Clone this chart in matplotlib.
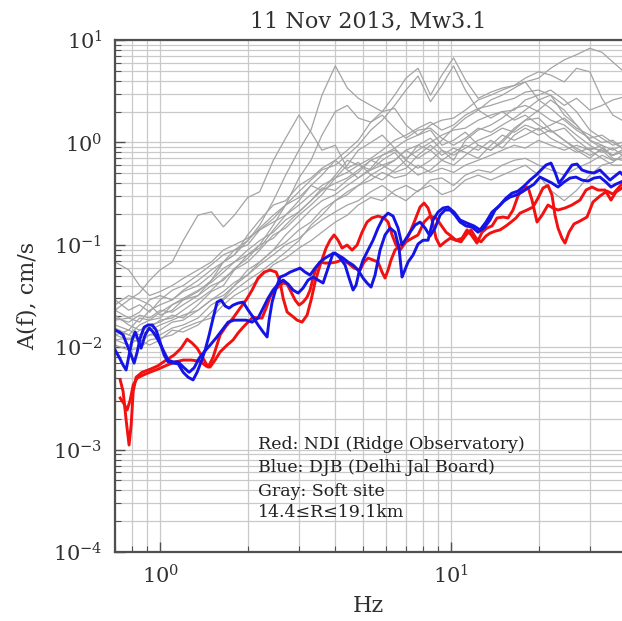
import matplotlib
matplotlib.use("Agg")
import matplotlib.pyplot as plt
from matplotlib.ticker import LogLocator, NullFormatter

plt.rcParams['font.family'] = ['DejaVu Serif']
plt.rcParams['mathtext.fontset'] = 'dejavuserif'

# ---------------- data ----------------
title = "11 Nov 2013, Mw3.1"
xlabel = "Hz"
ylabel = "A(f), cm/s"
notes = ["Red: NDI (Ridge Observatory)",
         "Blue: DJB (Delhi Jal Board)",
         "Gray: Soft site",
         "14.4\u2264R\u226419.1km"]

# frequency grid of the gray (soft-site) spectra, Hz
gray_f = [0.70, 0.78, 0.85, 0.92, 1.0, 1.1, 1.2, 1.35, 1.5, 1.65, 1.8, 2.0, 2.2, 2.45, 2.7,
          3.0, 3.3, 3.6, 4.0, 4.4, 4.8, 5.3, 5.8, 6.4, 7.0, 7.7, 8.5, 9.3, 10.2, 11.2, 12.4,
          13.7, 15, 16.5, 18, 20, 22, 24.5, 27, 30, 33, 36, 38.7]

g1 = [0.023, 0.029, 0.034, 0.045, 0.057, 0.068, 0.11, 0.195, 0.21, 0.15, 0.195, 0.29, 0.33, 0.67, 1.1,
      1.85, 1.26, 0.84, 0.94, 0.56, 0.64, 0.48, 0.56, 0.67, 0.84, 0.70, 0.84, 0.67, 0.80, 0.94, 0.84,
      1.05, 0.88, 1.18, 1.38, 1.18, 1.32, 1.05, 0.88, 0.75, 0.84, 0.67, 0.70]
g2 = [0.0147, 0.0132, 0.0165, 0.0184, 0.0193, 0.026, 0.029, 0.035, 0.045, 0.068, 0.08, 0.11, 0.156, 0.27, 0.48,
      0.84, 1.32, 2.9, 5.6, 3.4, 2.7, 2.3, 2.0, 2.15, 1.48, 1.18, 1.32, 0.94, 1.05, 1.26, 0.94,
      0.84, 1.0, 1.32, 1.65, 1.73, 1.32, 1.05, 0.84, 0.70, 0.88, 0.75, 0.84]
g3 = [0.0132, 0.0118, 0.0147, 0.0154, 0.0184, 0.0193, 0.023, 0.029, 0.036, 0.047, 0.057, 0.08, 0.093, 0.14, 0.195,
      0.27, 0.38, 0.48, 0.67, 0.84, 1.05, 1.58, 2.0, 2.9, 4.25, 5.3, 2.9, 4.55, 6.7, 4.1, 2.7,
      3.1, 3.4, 3.6, 3.9, 2.6, 2.9, 1.85, 1.48, 1.05, 0.88, 0.75, 0.80]
g4 = [0.0184, 0.0193, 0.0176, 0.023, 0.026, 0.029, 0.035, 0.040, 0.051, 0.068, 0.089, 0.10, 0.14, 0.18, 0.245,
      0.33, 0.43, 0.54, 0.60, 0.75, 0.94, 1.32, 1.65, 2.3, 3.25, 4.45, 2.5, 3.6, 5.6, 3.25, 2.07,
      1.73, 2.0, 1.65, 1.85, 1.48, 1.26, 1.38, 1.05, 0.84, 0.94, 0.70, 0.67]
g5 = [0.0118, 0.0105, 0.0123, 0.0132, 0.0147, 0.0176, 0.0184, 0.023, 0.029, 0.032, 0.040, 0.051, 0.068, 0.089, 0.125,
      0.167, 0.22, 0.27, 0.31, 0.38, 0.45, 0.54, 0.60, 0.67, 0.84, 0.94, 0.84, 1.05, 1.38, 1.73, 2.07,
      2.6, 2.9, 3.4, 3.9, 4.25, 5.3, 6.4, 7.2, 8.3, 7.6, 6.1, 5.1]
g6 = [0.0165, 0.0147, 0.0193, 0.0184, 0.022, 0.026, 0.030, 0.036, 0.043, 0.054, 0.068, 0.08, 0.10, 0.116, 0.156,
      0.21, 0.27, 0.34, 0.40, 0.45, 0.54, 0.67, 0.75, 0.88, 1.05, 1.18, 1.48, 1.65, 1.73, 2.07, 2.6,
      2.9, 3.25, 3.6, 4.25, 4.9, 4.55, 3.9, 5.3, 4.9, 2.7, 1.85, 1.65]
g7 = [0.0206, 0.0165, 0.0147, 0.0165, 0.0176, 0.0206, 0.0193, 0.026, 0.035, 0.040, 0.057, 0.068, 0.089, 0.125, 0.146,
      0.195, 0.245, 0.31, 0.45, 0.60, 0.84, 1.0, 1.18, 0.88, 0.67, 0.94, 1.1, 0.84, 0.67, 1.05, 1.32,
      1.48, 1.73, 2.15, 2.3, 2.0, 1.65, 1.48, 1.18, 0.94, 0.80, 0.88, 0.75]
g8 = [0.029, 0.023, 0.026, 0.022, 0.029, 0.036, 0.040, 0.051, 0.064, 0.08, 0.089, 0.11, 0.146, 0.195, 0.245,
      0.29, 0.38, 0.34, 0.48, 0.67, 0.60, 0.54, 0.67, 0.80, 0.60, 0.48, 0.54, 0.67, 0.60, 0.75, 0.94,
      0.84, 1.05, 1.38, 1.65, 2.07, 2.6, 2.07, 1.48, 1.05, 0.94, 0.84, 0.94]
g9 = [0.0118, 0.0123, 0.0112, 0.0132, 0.0132, 0.0154, 0.0165, 0.0193, 0.026, 0.030, 0.040, 0.057, 0.068, 0.089, 0.106,
      0.14, 0.167, 0.22, 0.27, 0.33, 0.38, 0.48, 0.43, 0.54, 0.67, 0.56, 0.67, 0.84, 0.75, 0.88, 1.05,
      1.18, 1.38, 1.26, 1.48, 1.32, 1.48, 1.73, 1.38, 1.18, 1.0, 1.05, 0.88]
g10 = [0.023, 0.0193, 0.022, 0.029, 0.032, 0.029, 0.036, 0.045, 0.057, 0.068, 0.08, 0.125, 0.175, 0.245, 0.27,
       0.38, 0.45, 0.56, 0.67, 0.54, 0.45, 0.56, 0.75, 0.84, 0.70, 0.84, 1.0, 1.18, 1.32, 1.38, 1.65,
       1.85, 2.0, 2.07, 2.6, 2.9, 3.25, 2.6, 2.0, 1.32, 1.1, 0.94, 1.0]
g11 = [0.0105, 0.0094, 0.0098, 0.0118, 0.0123, 0.0132, 0.0154, 0.0176, 0.0193, 0.026, 0.032, 0.038, 0.047, 0.064, 0.074,
       0.093, 0.11, 0.133, 0.167, 0.195, 0.245, 0.29, 0.27, 0.34, 0.38, 0.33, 0.43, 0.45, 0.38, 0.48, 0.54,
       0.51, 0.60, 0.67, 0.70, 0.60, 0.54, 0.48, 0.56, 0.64, 0.75, 0.67, 0.70]
g12 = [0.0132, 0.0147, 0.0132, 0.0147, 0.0165, 0.0184, 0.0206, 0.023, 0.029, 0.035, 0.043, 0.051, 0.064, 0.08, 0.10,
       0.116, 0.146, 0.175, 0.21, 0.245, 0.27, 0.33, 0.38, 0.31, 0.27, 0.34, 0.38, 0.31, 0.34, 0.43, 0.48,
       0.43, 0.48, 0.54, 0.60, 0.48, 0.34, 0.27, 0.34, 0.48, 0.60, 0.64, 0.75]
g13 = [0.068, 0.057, 0.040, 0.032, 0.035, 0.040, 0.047, 0.057, 0.068, 0.089, 0.10, 0.116, 0.14, 0.167, 0.195,
       0.245, 0.31, 0.38, 0.45, 0.51, 0.60, 0.70, 0.84, 1.05, 1.18, 1.38, 1.58, 1.32, 1.48, 1.85, 2.15,
       2.3, 2.5, 2.7, 3.1, 3.25, 2.9, 2.3, 2.7, 2.07, 2.3, 2.6, 2.75]
g14 = [0.0193, 0.0176, 0.0206, 0.0193, 0.023, 0.022, 0.026, 0.032, 0.040, 0.045, 0.059, 0.074, 0.10, 0.156, 0.245,
       0.45, 0.67, 1.18, 2.0, 2.3, 1.73, 1.58, 1.85, 1.38, 1.1, 1.32, 1.38, 1.1, 0.94, 1.1, 1.38,
       1.26, 1.48, 1.73, 2.07, 2.6, 2.15, 1.65, 1.32, 1.1, 1.18, 1.0, 0.88]
g15 = [0.0154, 0.0132, 0.0118, 0.0105, 0.0118, 0.0147, 0.0141, 0.0165, 0.022, 0.029, 0.036, 0.045, 0.054, 0.068, 0.085,
       0.11, 0.156, 0.195, 0.27, 0.31, 0.38, 0.43, 0.51, 0.45, 0.48, 0.60, 0.51, 0.56, 0.51, 0.60, 0.67,
       0.75, 0.84, 0.94, 0.88, 1.05, 0.94, 0.84, 0.94, 0.84, 0.70, 0.60, 0.60]
g16 = [0.026, 0.032, 0.029, 0.026, 0.0206, 0.023, 0.029, 0.032, 0.045, 0.059, 0.068, 0.089, 0.11, 0.133, 0.175,
       0.21, 0.27, 0.36, 0.34, 0.43, 0.51, 0.67, 0.60, 0.51, 0.56, 0.75, 0.94, 0.75, 0.88, 0.80, 0.70,
       0.94, 1.18, 1.05, 1.18, 1.38, 1.1, 0.94, 0.80, 0.88, 0.84, 0.75, 0.84]
gray_series = [g1, g2, g3, g4, g5, g6, g7, g8, g9, g10, g11, g12, g13, g14, g15, g16]

# Red: NDI (two components)
red1_f = [0.729, 0.746, 0.764, 0.782, 0.795, 0.808, 0.827, 0.867, 0.924, 0.984, 1.049, 1.117, 1.181, 1.238,
          1.288, 1.340, 1.405, 1.462, 1.521, 1.608, 1.686, 1.782, 1.883, 1.975, 2.071, 2.172, 2.277, 2.388,
          2.504, 2.585, 2.647, 2.732, 2.843, 2.957, 3.076, 3.200, 3.303, 3.409, 3.547, 3.719, 3.838, 3.962,
          4.089, 4.221, 4.392, 4.569, 4.754, 4.945, 5.144, 5.351, 5.612, 5.886, 6.075, 6.270, 6.471, 6.678,
          6.948, 7.229, 7.521, 7.826, 8.077, 8.337, 8.605, 8.881, 9.167, 9.537, 9.922, 10.40, 10.91, 11.35,
          11.81, 12.28, 12.78, 13.29, 13.83, 14.39, 15.09, 15.70, 16.33, 16.99, 17.68, 18.39, 18.98, 19.75,
          20.55, 21.54, 22.41, 23.32, 24.65, 26.05, 27.76, 29.11, 30.52, 32.00, 33.83, 35.47, 36.90, 38.70]
red1_a = [0.0048, 0.0037, 0.00195, 0.00111, 0.00174, 0.0037, 0.0051, 0.0057, 0.0061, 0.0066, 0.0075, 0.0084,
          0.0098, 0.0120, 0.0110, 0.0098, 0.0078, 0.0064, 0.0080, 0.0132, 0.0161, 0.0193, 0.0241, 0.0289,
          0.0362, 0.0474, 0.0542, 0.0567, 0.0542, 0.0433, 0.0302, 0.0221, 0.0202, 0.0184, 0.0176, 0.0206,
          0.0289, 0.0433, 0.0635, 0.093, 0.111, 0.125, 0.111, 0.093, 0.0996, 0.0889, 0.0996, 0.133, 0.167,
          0.183, 0.191, 0.183, 0.167, 0.125, 0.0996, 0.0889, 0.104, 0.133, 0.175, 0.234, 0.256, 0.229, 0.175,
          0.116, 0.0973, 0.107, 0.116, 0.111, 0.116, 0.140, 0.122, 0.104, 0.133, 0.146, 0.153, 0.183, 0.187,
          0.183, 0.219, 0.300, 0.359, 0.367, 0.274, 0.167, 0.195, 0.245, 0.229, 0.219, 0.229, 0.245, 0.274,
          0.343, 0.367, 0.343, 0.343, 0.274, 0.328, 0.359]
red2_f = [0.729, 0.752, 0.770, 0.789, 0.808, 0.834, 0.874, 0.924, 0.984, 1.057, 1.126, 1.2, 1.278, 1.372,
          1.439, 1.485, 1.545, 1.608, 1.699, 1.782, 1.854, 1.929, 2.006, 2.087, 2.172, 2.241, 2.313, 2.388,
          2.465, 2.544, 2.647, 2.732, 2.820, 2.911, 3.004, 3.101, 3.200, 3.277, 3.356, 3.436, 3.547, 3.690,
          3.838, 4.025, 4.221, 4.426, 4.642, 4.867, 5.023, 5.185, 5.395, 5.612, 5.793, 5.932, 6.075, 6.220,
          6.420, 6.678, 7.004, 7.345, 7.702, 8.077, 8.470, 8.881, 9.239, 9.612, 10.0, 10.40, 10.82, 11.26,
          11.71, 12.19, 12.68, 13.19, 13.61, 14.17, 14.74, 15.45, 16.08, 16.72, 17.26, 18.25, 19.13, 19.91,
          20.71, 21.54, 22.24, 22.77, 23.32, 24.07, 24.65, 25.44, 26.47, 27.76, 29.34, 30.76, 32.51, 34.37,
          36.04, 38.09, 38.70]
red2_a = [0.00319, 0.00279, 0.00244, 0.00305, 0.00428, 0.0050, 0.00535, 0.00572, 0.00612, 0.0067, 0.00717,
          0.0075, 0.0075, 0.0073, 0.00655, 0.00641, 0.0075, 0.0090, 0.0105, 0.0118, 0.0138, 0.0157, 0.0176,
          0.0197, 0.0193, 0.0193, 0.0241, 0.0309, 0.0362, 0.0387, 0.0424, 0.0414, 0.0346, 0.0289, 0.0258,
          0.0276, 0.0309, 0.0362, 0.0474, 0.0593, 0.0679, 0.0664, 0.0664, 0.0679, 0.0711, 0.0664, 0.0593,
          0.0567, 0.0679, 0.0743, 0.0711, 0.0679, 0.0542, 0.0474, 0.0567, 0.0711, 0.0889, 0.0996, 0.107,
          0.116, 0.125, 0.167, 0.191, 0.183, 0.156, 0.133, 0.122, 0.111, 0.107, 0.125, 0.140, 0.116, 0.107,
          0.122, 0.130, 0.136, 0.140, 0.153, 0.167, 0.183, 0.204, 0.219, 0.234, 0.286, 0.359, 0.38, 0.306,
          0.195, 0.146, 0.116, 0.104, 0.133, 0.160, 0.171, 0.187, 0.262, 0.300, 0.335, 0.313, 0.375, 0.392]

# Blue: DJB (two components)
blue1_f = [0.700, 0.723, 0.746, 0.770, 0.795, 0.814, 0.834, 0.854, 0.881, 0.909, 0.939, 0.969, 1.0, 1.032,
           1.065, 1.108, 1.153, 1.2, 1.248, 1.298, 1.340, 1.383, 1.428, 1.474, 1.521, 1.570, 1.621, 1.673,
           1.726, 1.782, 1.854, 1.929, 2.006, 2.087, 2.172, 2.259, 2.332, 2.369, 2.426, 2.504, 2.585, 2.689,
           2.798, 2.911, 3.028, 3.150, 3.277, 3.409, 3.547, 3.690, 3.838, 3.993, 4.155, 4.323, 4.462, 4.605,
           4.716, 4.829, 4.984, 5.185, 5.395, 5.612, 5.839, 6.075, 6.319, 6.574, 6.785, 6.948, 7.229, 7.521,
           7.826, 8.142, 8.470, 8.810, 9.167, 9.537, 9.922, 10.32, 10.74, 11.26, 11.81, 12.38, 12.98, 13.61,
           14.17, 14.74, 15.45, 16.20, 16.99, 17.82, 18.69, 19.60, 20.39, 21.21, 22.06, 22.77, 23.50, 24.26,
           25.04, 26.05, 27.10, 28.20, 29.57, 31.00, 32.51, 33.83, 35.19, 36.61, 38.09, 38.70]
blue1_a = [0.0147, 0.0141, 0.0132, 0.0105, 0.0084, 0.0070, 0.0090, 0.0123, 0.0157, 0.0165, 0.0165, 0.0147,
           0.0112, 0.0084, 0.0072, 0.0070, 0.0069, 0.0057, 0.0051, 0.0048, 0.0057, 0.0072, 0.0094, 0.0132,
           0.0193, 0.0276, 0.0289, 0.0253, 0.0241, 0.0258, 0.0270, 0.0276, 0.0231, 0.0197, 0.0165, 0.0141,
           0.0126, 0.0184, 0.0276, 0.0379, 0.0485, 0.0507, 0.0542, 0.0567, 0.0593, 0.0542, 0.0507, 0.0593,
           0.0679, 0.0743, 0.0795, 0.0832, 0.0743, 0.0635, 0.0474, 0.0362, 0.0405, 0.0542, 0.0711, 0.0889,
           0.111, 0.146, 0.183, 0.204, 0.191, 0.146, 0.0996, 0.111, 0.133, 0.156, 0.167, 0.146, 0.122, 0.146,
           0.195, 0.219, 0.219, 0.195, 0.167, 0.153, 0.149, 0.133, 0.146, 0.175, 0.219, 0.245, 0.286, 0.320,
           0.335, 0.375, 0.429, 0.480, 0.538, 0.602, 0.629, 0.514, 0.401, 0.449, 0.514, 0.602, 0.615, 0.538,
           0.514, 0.503, 0.538, 0.480, 0.429, 0.470, 0.514, 0.491]
blue2_f = [0.700, 0.723, 0.746, 0.764, 0.782, 0.801, 0.821, 0.840, 0.860, 0.888, 0.917, 0.946, 0.984, 1.024,
           1.065, 1.108, 1.153, 1.209, 1.258, 1.309, 1.361, 1.416, 1.485, 1.557, 1.633, 1.713, 1.796, 1.883,
           1.975, 2.071, 2.172, 2.259, 2.350, 2.445, 2.544, 2.647, 2.754, 2.864, 2.981, 3.101, 3.226, 3.356,
           3.491, 3.632, 3.778, 3.931, 4.089, 4.255, 4.426, 4.605, 4.791, 4.984, 5.144, 5.309, 5.480, 5.702,
           5.932, 6.172, 6.420, 6.626, 6.785, 6.894, 7.115, 7.403, 7.702, 8.014, 8.337, 8.673, 9.023, 9.387,
           9.766, 10.24, 10.74, 11.35, 11.99, 12.58, 13.19, 13.83, 14.51, 15.21, 15.95, 16.72, 17.54, 18.39,
           19.29, 20.23, 21.21, 22.24, 23.32, 24.45, 25.64, 26.89, 28.20, 29.57, 31.00, 32.51, 34.10, 35.47,
           36.90, 38.70]
blue2_a = [0.0094, 0.0080, 0.0067, 0.0060, 0.0084, 0.0118, 0.0141, 0.0118, 0.0098, 0.0132, 0.0154, 0.0141,
           0.0118, 0.0094, 0.0075, 0.0072, 0.0072, 0.0063, 0.0057, 0.0063, 0.0078, 0.0090, 0.0105, 0.0123,
           0.0147, 0.0176, 0.0184, 0.0184, 0.0184, 0.0176, 0.0193, 0.0241, 0.0302, 0.0362, 0.0414, 0.0453,
           0.0414, 0.0362, 0.0338, 0.0379, 0.0453, 0.0485, 0.0453, 0.0424, 0.0593, 0.0832, 0.0795, 0.0743,
           0.0679, 0.0635, 0.0567, 0.0474, 0.0424, 0.0387, 0.0507, 0.0889, 0.125, 0.146, 0.133, 0.093, 0.0485,
           0.0542, 0.0679, 0.0795, 0.102, 0.111, 0.111, 0.175, 0.209, 0.229, 0.234, 0.209, 0.175, 0.163, 0.153,
           0.140, 0.167, 0.209, 0.234, 0.268, 0.293, 0.306, 0.328, 0.359, 0.392, 0.459, 0.429, 0.401, 0.367,
           0.410, 0.449, 0.459, 0.429, 0.420, 0.449, 0.459, 0.410, 0.367, 0.392, 0.415]

x_limits = (0.70, 38.7)
y_limits = (1e-4, 1e1)

# ---------------- figure ----------------
fig = plt.figure(figsize=(6.22, 6.21), dpi=100)
ax = fig.add_axes([0.185, 0.111, 0.815, 0.8245])

for g in gray_series:
    ax.plot(gray_f, g, color='#a4a4a4', lw=0.9, zorder=2)
ax.plot(red1_f, red1_a, color='#f21010', lw=2.1, zorder=3)
ax.plot(red2_f, red2_a, color='#f21010', lw=2.1, zorder=3)
ax.plot(blue1_f, blue1_a, color='#1414e6', lw=2.1, zorder=4)
ax.plot(blue2_f, blue2_a, color='#1414e6', lw=2.1, zorder=4)

ax.set_xscale('log')
ax.set_yscale('log')
ax.set_xlim(*x_limits)
ax.set_ylim(*y_limits)
ax.yaxis.set_major_locator(LogLocator(base=10, numticks=12))
ax.yaxis.set_minor_locator(LogLocator(base=10, subs=range(2, 10), numticks=40))
ax.xaxis.set_minor_locator(LogLocator(base=10, subs=range(2, 10), numticks=40))
ax.xaxis.set_minor_formatter(NullFormatter())
ax.yaxis.set_minor_formatter(NullFormatter())

ax.grid(True, which='both', color='#c9c9c9', lw=0.9, zorder=0)
ax.set_axisbelow(True)
for s in ['left', 'bottom', 'top']:
    ax.spines[s].set_color('#505050')
    ax.spines[s].set_linewidth(1.6)
ax.spines['right'].set_visible(False)
ax.tick_params(which='both', direction='in', color='#505050', top=False, right=False)
ax.tick_params(which='major', length=7, width=1.0, labelsize=15, pad=9, labelcolor='#303030')
ax.tick_params(which='minor', length=4, width=0.8)

ax.set_title(title, fontsize=16, pad=9, color='#303030')
ax.set_ylabel(ylabel, fontsize=16, color='#303030')
ax.yaxis.set_label_coords(-0.15, 0.5)
ax.set_xlabel(xlabel, fontsize=16, color='#303030')
ax.xaxis.set_label_coords(0.5, -0.084)

note_y = [0.211, 0.166, 0.119, 0.078]
for t, yy in zip(notes, note_y):
    ax.text(0.282, yy, t, transform=ax.transAxes, fontsize=12.5, va='center', ha='left',
            color='#222222', zorder=5)

fig.savefig("out.png", dpi=100)
